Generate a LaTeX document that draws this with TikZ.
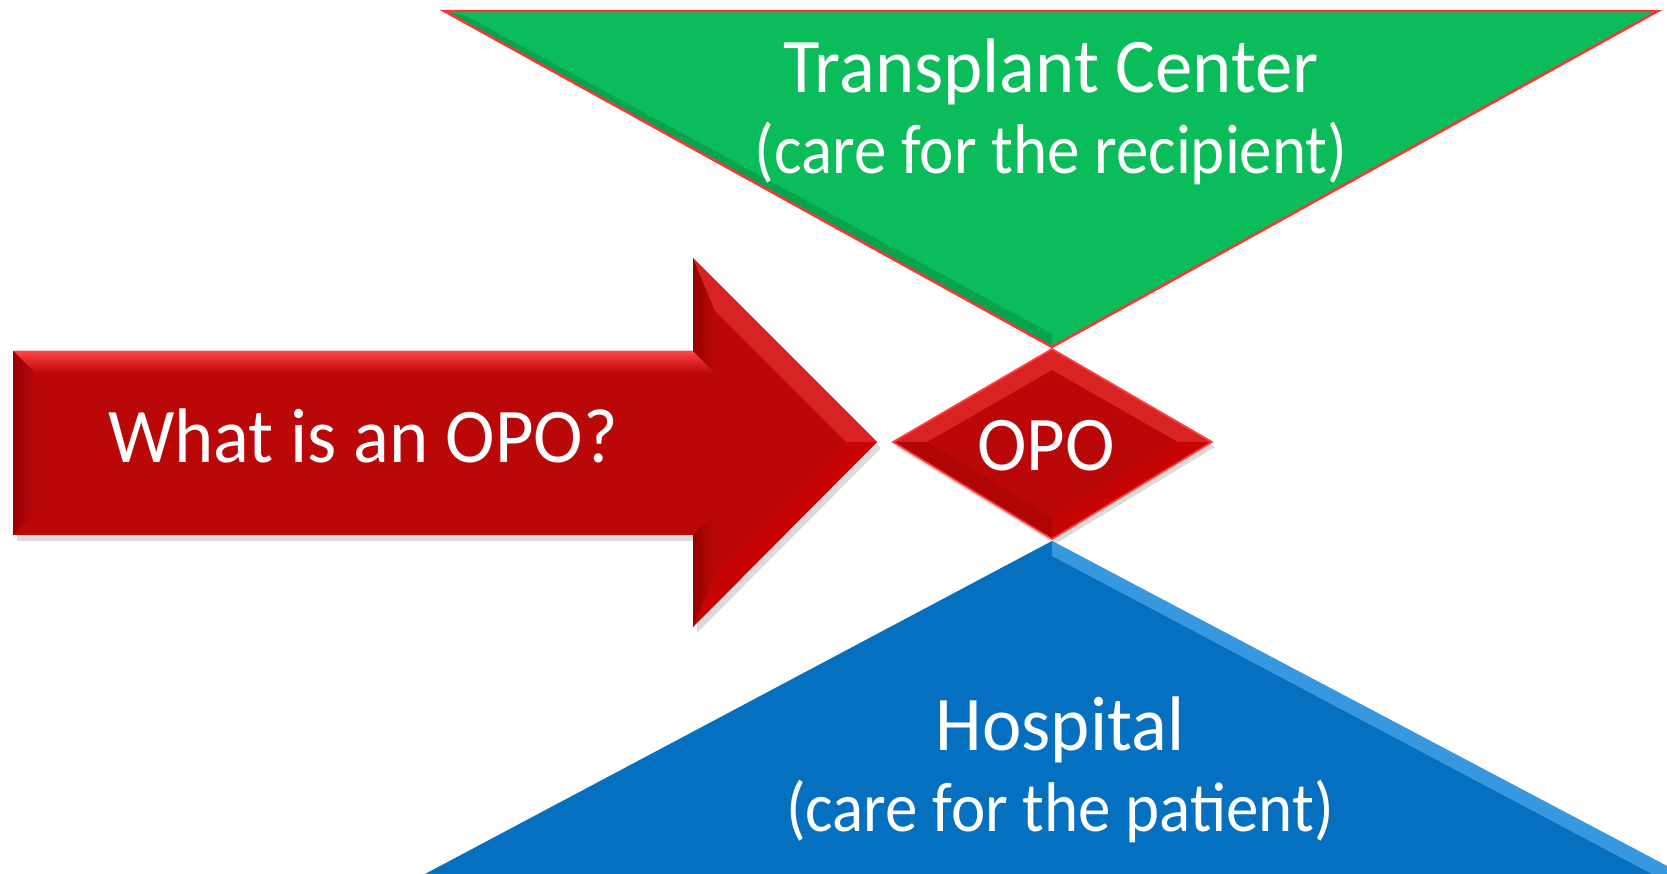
\documentclass[tikz,border=0pt]{standalone}
\usepackage{fontspec}
\setmainfont{Carlito}
\newfontfamily\titlefont{Carlito}[FakeStretch=0.965]
\newfontfamily\notefont{Carlito}[FakeStretch=0.924]
\usetikzlibrary{positioning, shapes}

\definecolor{opored}{HTML}{BA0808}
\definecolor{opolight}{HTML}{FF4444}
\definecolor{opodark}{HTML}{960000}
\definecolor{tcgreen}{HTML}{0ABC5A}
\definecolor{tcdark}{HTML}{056B32}
\definecolor{hospblue}{HTML}{0670C0}
\definecolor{hosplight}{HTML}{5AB4F5}

\newcommand{\subline}[1]{{\notefont\fontsize{20}{23}\selectfont #1}}

\begin{document}
\begin{tikzpicture}[
    x=0.01cm, y=-0.01cm,
    label/.style={text=white, align=center, font=\titlefont\fontsize{22}{23}\selectfont, inner sep=0pt},
    shadowfill/.style={fill=black, fill opacity=0.14},
    bevel/.style={fill opacity=0.45}
]
\useasboundingbox (0,0) rectangle (1667,874);

% Red arrow
\fill[shadowfill] (17,357) -- (697,357) -- (697,264) -- (881,448) -- (697,633) -- (697,541) -- (17,541) -- cycle;
\fill[opored] (13,351) -- (693,351) -- (693,258) -- (877,442) -- (693,627) -- (693,535) -- (13,535) -- cycle;
% bevel facets of the arrow
\shade[top color=opolight, bottom color=opored] (13,351) -- (693,351) -- (715,373) -- (35,373) -- cycle;
\shade[left color=opodark, right color=opored] (13,351) -- (35,373) -- (35,513) -- (13,535) -- cycle;
\shade[left color=opodark, right color=opored] (693,351) -- (693,258) -- (715,311) -- (715,373) -- cycle;
\fill[opolight, bevel] (693,258) -- (877,442) -- (846,442) -- (715,311) -- cycle;
\fill[red!85!black, bevel] (877,442) -- (693,627) -- (715,574) -- (846,442) -- cycle;
\shade[left color=opodark, right color=opored] (693,627) -- (693,535) -- (715,513) -- (715,574) -- cycle;
\node[label] (question) at (363,436) {What is an OPO?};

% Transplant center
\fill[tcgreen] (444,11) -- (1658,11) -- (1052,347) -- cycle;
\fill[tcdark, fill opacity=0.3] (444,11) -- (1052,347) -- (1052,334) -- (466,16) -- cycle;
\draw[red!80, line width=0.7pt] (444,11) -- (1658,11) -- (1052,347) -- cycle;
\node[label] (center) at (1051,112) {Transplant Center\\\subline{(care for the recipient)}};

% OPO
\fill[shadowfill] (896,447) -- (1055,354) -- (1215,447) -- (1055,544) -- cycle;
\fill[opored] (893,442) -- (1052,349) -- (1212,442) -- (1052,539) -- cycle;
\fill[opolight, bevel] (893,442) -- (1052,349) -- (1052,370) -- (927,442) -- cycle;
\fill[opolight, bevel] (1212,442) -- (1052,349) -- (1052,370) -- (1178,442) -- cycle;
\fill[red!85!black, bevel] (1212,442) -- (1052,539) -- (1052,518) -- (1178,442) -- cycle;
\fill[opodark, fill opacity=0.3] (893,442) -- (1052,539) -- (1052,518) -- (927,442) -- cycle;
\draw[red!75, line width=0.5pt] (893,442) -- (1052,349) -- (1212,442) -- (1052,539) -- cycle;
\node[label] (opo) at (1046,446) {OPO};

% Hospital
\fill[hospblue] (1052,541) -- (1667,866) -- (1667,874) -- (425,874) -- cycle;
\fill[hosplight, fill opacity=0.6] (1052,541) -- (1667,866) -- (1667,874) -- (1652,874) -- (1052,556) -- cycle;
\node[label] (hospital) at (1060,770) {Hospital\\\subline{(care for the patient)}};

\end{tikzpicture}
\end{document}
